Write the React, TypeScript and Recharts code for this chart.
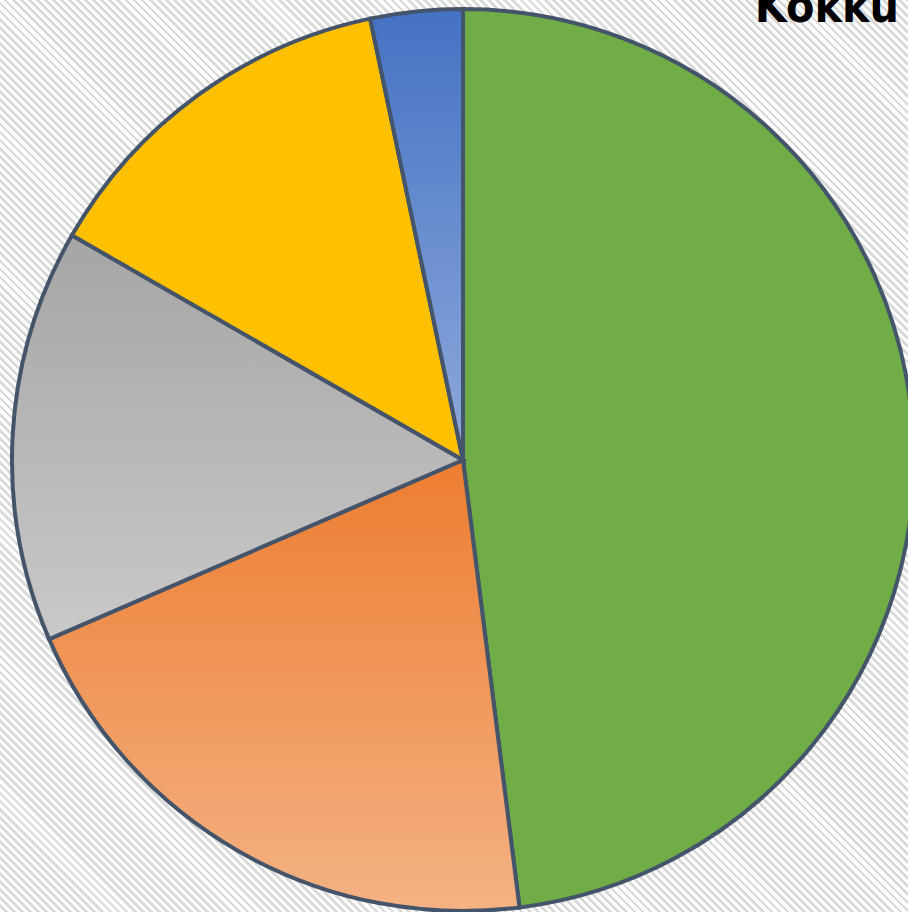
import React from 'react';
import { PieChart, Pie, Cell } from 'recharts';

// share of each slice, clockwise from 12 o'clock
const sliceNames = ['Roheline', 'Oranž', 'Hall', 'Kollane', 'Sinine'];
const sliceValues = [48.0, 20.5, 14.8, 13.4, 3.3];
const sliceFills = ['#70AD47', 'url(#gOrange)', 'url(#gGray)', '#FFC000', 'url(#gBlue)'];

const title = 'Kokku';

const data = sliceNames.map((name, i) => ({ name, value: sliceValues[i] }));

export default function App() {
  return (
    <div
      style={{
        position: 'absolute',
        left: 0,
        top: 0,
        width: 908,
        height: 912,
        overflow: 'hidden',
        background: 'repeating-linear-gradient(45deg, #ffffff 0px, #ffffff 3px, #dadada 3px, #dadada 5.7px)',
      }}
    >
      <PieChart width={908} height={912} margin={{ top: 0, right: 0, bottom: 0, left: 0 }}>
        <defs>
          <linearGradient id="gOrange" x1="0" y1="0" x2="0" y2="1">
            <stop offset="0%" stopColor="#ED7D31" />
            <stop offset="100%" stopColor="#F4B284" />
          </linearGradient>
          <linearGradient id="gGray" x1="0" y1="0" x2="0" y2="1">
            <stop offset="0%" stopColor="#A5A5A5" />
            <stop offset="100%" stopColor="#C9C9C9" />
          </linearGradient>
          <linearGradient id="gBlue" x1="0" y1="0" x2="0" y2="1">
            <stop offset="0%" stopColor="#4472C4" />
            <stop offset="100%" stopColor="#8FAADC" />
          </linearGradient>
        </defs>
        <Pie
          data={data}
          dataKey="value"
          nameKey="name"
          cx={463}
          cy={460}
          outerRadius={451}
          startAngle={90}
          endAngle={-270}
          stroke="#44546A"
          strokeWidth={4}
          isAnimationActive={false}
        >
          {data.map((entry, index) => (
            <Cell key={`cell-${index}`} fill={sliceFills[index]} stroke="#44546A" strokeWidth={4} />
          ))}
        </Pie>
        <text
          x={899}
          y={22}
          textAnchor="end"
          fill="#000"
          style={{
            fontFamily: "'DejaVu Sans Condensed', 'DejaVu Sans', sans-serif",
            fontStretch: 'condensed',
            fontWeight: 'bold',
            fontSize: 46,
          }}
        >
          {title}
        </text>
      </PieChart>
    </div>
  );
}
